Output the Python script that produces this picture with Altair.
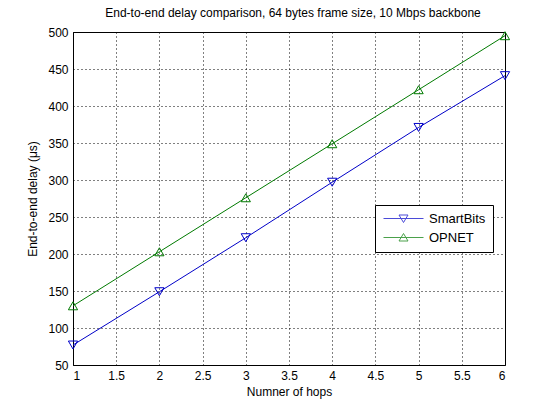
import altair as alt
import pandas as pd

hops = [1, 2, 3, 4, 5, 6]
smartbits = [77, 149, 222, 297, 371, 441]
opnet = [130, 203, 276, 349, 422, 495]
series_names = ["SmartBits", "OPNET"]
series_colors = ["#0000c8", "#007a00"]
x_ticks = [1, 1.5, 2, 2.5, 3, 3.5, 4, 4.5, 5, 5.5, 6]
y_ticks = [50, 100, 150, 200, 250, 300, 350, 400, 450, 500]

df = pd.DataFrame(
    {
        "hops": hops * 2,
        "delay": smartbits + opnet,
        "series": [series_names[0]] * len(hops) + [series_names[1]] * len(hops),
    }
)

FONT = "Liberation Sans"

x_enc = alt.X(
    "hops:Q",
    scale=alt.Scale(domain=[1, 6], nice=False, zero=False),
    axis=alt.Axis(
        values=x_ticks,
        format="~g",
        title="Numner of hops",
        grid=True,
        ticks=False,
        domain=False,
        labelPadding=5,
        titlePadding=5,
    ),
)
y_enc = alt.Y(
    "delay:Q",
    scale=alt.Scale(domain=[50, 500], nice=False, zero=False),
    axis=alt.Axis(
        values=y_ticks,
        title="End-to-end delay (μs)",
        grid=True,
        ticks=False,
        domain=False,
        labelPadding=5,
        titlePadding=8,
    ),
)

base = alt.Chart(df).encode(x=x_enc, y=y_enc)

layers = []
shapes = ["triangle-down", "triangle-up"]
for name, col, shp in zip(series_names, series_colors, shapes):
    sub = base.transform_filter(alt.datum.series == name)
    layers.append(sub.mark_line(color=col, strokeWidth=1))
    layers.append(
        sub.mark_point(shape=shp, size=85, color=col, filled=False, strokeWidth=1, opacity=1)
    )

# legend symbols: line through a triangle
path_down = "M-4,0H4M-0.9,-0.7L0.9,-0.7L0,0.8Z"
path_up = "M-4,0H4M-0.9,0.7L0.9,0.7L0,-0.8Z"


def make_legend():
    return alt.Legend(
        title=None,
        orient="none",
        legendX=302,
        legendY=173,
        fillColor="white",
        strokeColor="black",
        padding=7,
        symbolSize=100,
        symbolOffset=15,
        labelOffset=19,
        rowPadding=5,
        labelFontSize=13,
        labelFont=FONT,
        labelColor="black",
        labelExpr="datum.label + '\u00a0\u00a0\u00a0'",
        symbolStrokeWidth=1,
    )


legend_layer = (
    base.transform_filter("false")
    .mark_point(filled=False, strokeWidth=1)
    .encode(
        color=alt.Color(
            "series:N",
            scale=alt.Scale(domain=series_names, range=series_colors),
            legend=make_legend(),
        ),
        shape=alt.Shape(
            "series:N",
            scale=alt.Scale(domain=series_names, range=[path_down, path_up]),
            legend=make_legend(),
        ),
    )
)
layers.append(legend_layer)

chart = (
    alt.layer(*layers)
    .properties(
        width=432,
        height=333,
        title=alt.TitleParams(
            "End-to-end delay comparison, 64 bytes frame size, 10 Mbps backbone",
            font=FONT,
            fontSize=12,
            fontWeight="normal",
            color="black",
            anchor="middle",
            dx=4,
            offset=6,
        ),
        autosize=alt.AutoSizeParams(type="none"),
        padding={"left": 73, "top": 32, "right": 53, "bottom": 45},
    )
    .configure(background="white")
    .configure_view(stroke="black", strokeWidth=1)
    .configure_axis(
        labelFont=FONT,
        labelFontSize=12,
        labelColor="black",
        titleFont=FONT,
        titleFontSize=12,
        titleFontWeight="normal",
        titleColor="black",
        gridColor="black",
        gridOpacity=1,
        gridDash=[1, 3],
        gridWidth=1,
    )
)

chart.save("out.html", embed_options={"renderer": "svg", "actions": False})
